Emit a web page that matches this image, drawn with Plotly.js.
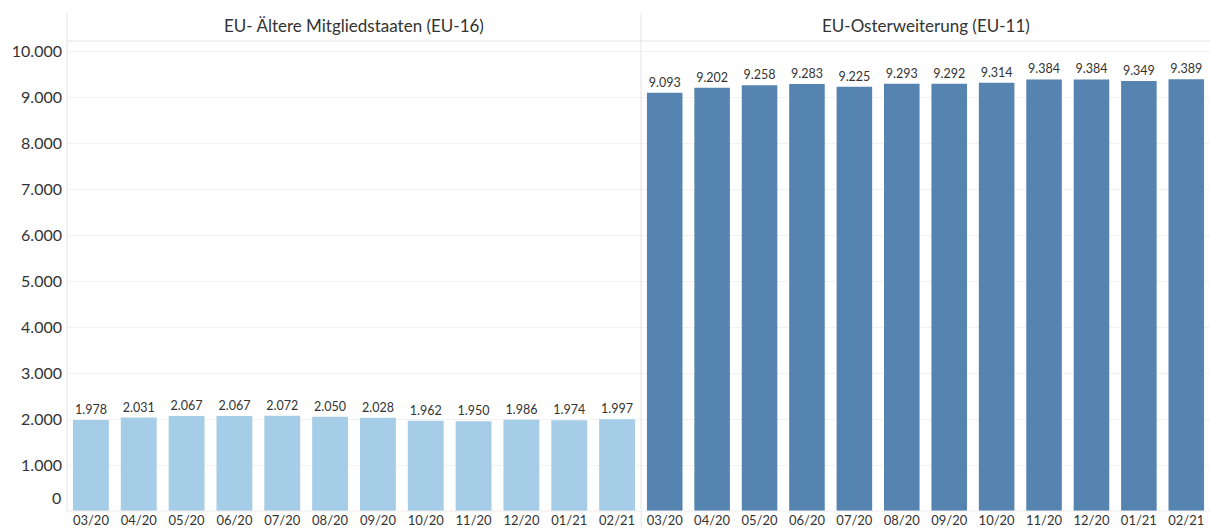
<!DOCTYPE html>
<html><head><meta charset="utf-8">
<script src="https://cdn.plot.ly/plotly-3.0.1.min.js"></script>
<style>html,body{margin:0;padding:0;background:#fff}#c{width:1210px;height:528px}</style>
</head><body><div id="c"></div>
<script>
const months = ["03/20","04/20","05/20","06/20","07/20","08/20","09/20","10/20","11/20","12/20","01/21","02/21"];
const eu16 = [1978,2031,2067,2067,2072,2050,2028,1962,1950,1986,1974,1997];
const eu11 = [9093,9202,9258,9283,9225,9293,9292,9314,9384,9384,9349,9389];
const panelTitles = ["EU- Ältere Mitgliedstaaten (EU-16)","EU-Osterweiterung (EU-11)"];
const yTicks = [1000,2000,3000,4000,5000,6000,7000,8000,9000,10000];

const FONT = "Lato, 'Open Sans', sans-serif";
const W=1210, L=67, R=0, T=41, B=17;
const split = (641-L)/(W-L-R);

const traces = [
 {type:'bar', x:months, y:eu16, xaxis:'x', yaxis:'y', marker:{color:'#a6cde7'}, width:0.75,
  texttemplate:'%{y:,}', textposition:'outside', cliponaxis:false,
  textfont:{family:FONT,size:12.5,color:'#333'}, hoverinfo:'skip'},
 {type:'bar', x:months, y:eu11, xaxis:'x2', yaxis:'y', marker:{color:'#5584b1'}, width:0.75,
  texttemplate:'%{y:,}', textposition:'outside', cliponaxis:false,
  textfont:{family:FONT,size:12.5,color:'#333'}, hoverinfo:'skip'}
];

const xax = (dom)=>({domain:dom, type:'category', showgrid:false, zeroline:false, showline:false,
  ticks:'', tickfont:{family:FONT,size:13,color:'#333'}, fixedrange:true});

const layout = {
  width:W, height:528, margin:{l:L,r:R,t:T,b:B}, separators:',.',
  paper_bgcolor:'#fff', plot_bgcolor:'#fff', showlegend:false, bargap:0.25,
  font:{family:FONT,color:'#333'},
  xaxis: xax([0,split]), xaxis2: xax([split,1]),
  yaxis:{range:[0,10220], tickvals:yTicks, tickformat:',', showgrid:true, gridcolor:'#f2f2f2',
    zeroline:false, showline:false, ticks:'', ticklabelstandoff:4,
    tickfont:{family:FONT,size:16,color:'#333'}},
  annotations:[
    {text:panelTitles[0], xref:'paper', yref:'paper', x:split/2, y:1, xanchor:'center', yanchor:'bottom', yshift:3, showarrow:false, font:{family:FONT,size:17,color:'#333'}},
    {text:panelTitles[1], xref:'paper', yref:'paper', x:(split+1)/2, y:1, xanchor:'center', yanchor:'bottom', yshift:3, showarrow:false, font:{family:FONT,size:17,color:'#333'}},
    {text:'0', xref:'paper', yref:'y', x:0, y:0, xanchor:'right', yanchor:'bottom', xshift:-4, yshift:2, showarrow:false, font:{family:FONT,size:16,color:'#333'}}
  ],
  shapes:[
    {type:'line', xref:'paper', yref:'paper', x0:0, x1:0, y0:0, y1:1+28/470, line:{color:'#e3e3e3',width:1}},
    {type:'line', xref:'paper', yref:'paper', x0:split, x1:split, y0:-17/470, y1:1+28/470, line:{color:'#e3e3e3',width:1}},
    {type:'line', xref:'paper', yref:'paper', x0:0, x1:1, y0:1, y1:1, line:{color:'#e3e3e3',width:1}},
    {type:'line', xref:'paper', yref:'paper', x0:0, x1:1, y0:0, y1:0, line:{color:'#ececec',width:1}}
  ]
};
Plotly.newPlot('c', traces, layout, {displayModeBar:false, staticPlot:true});
</script></body></html>
